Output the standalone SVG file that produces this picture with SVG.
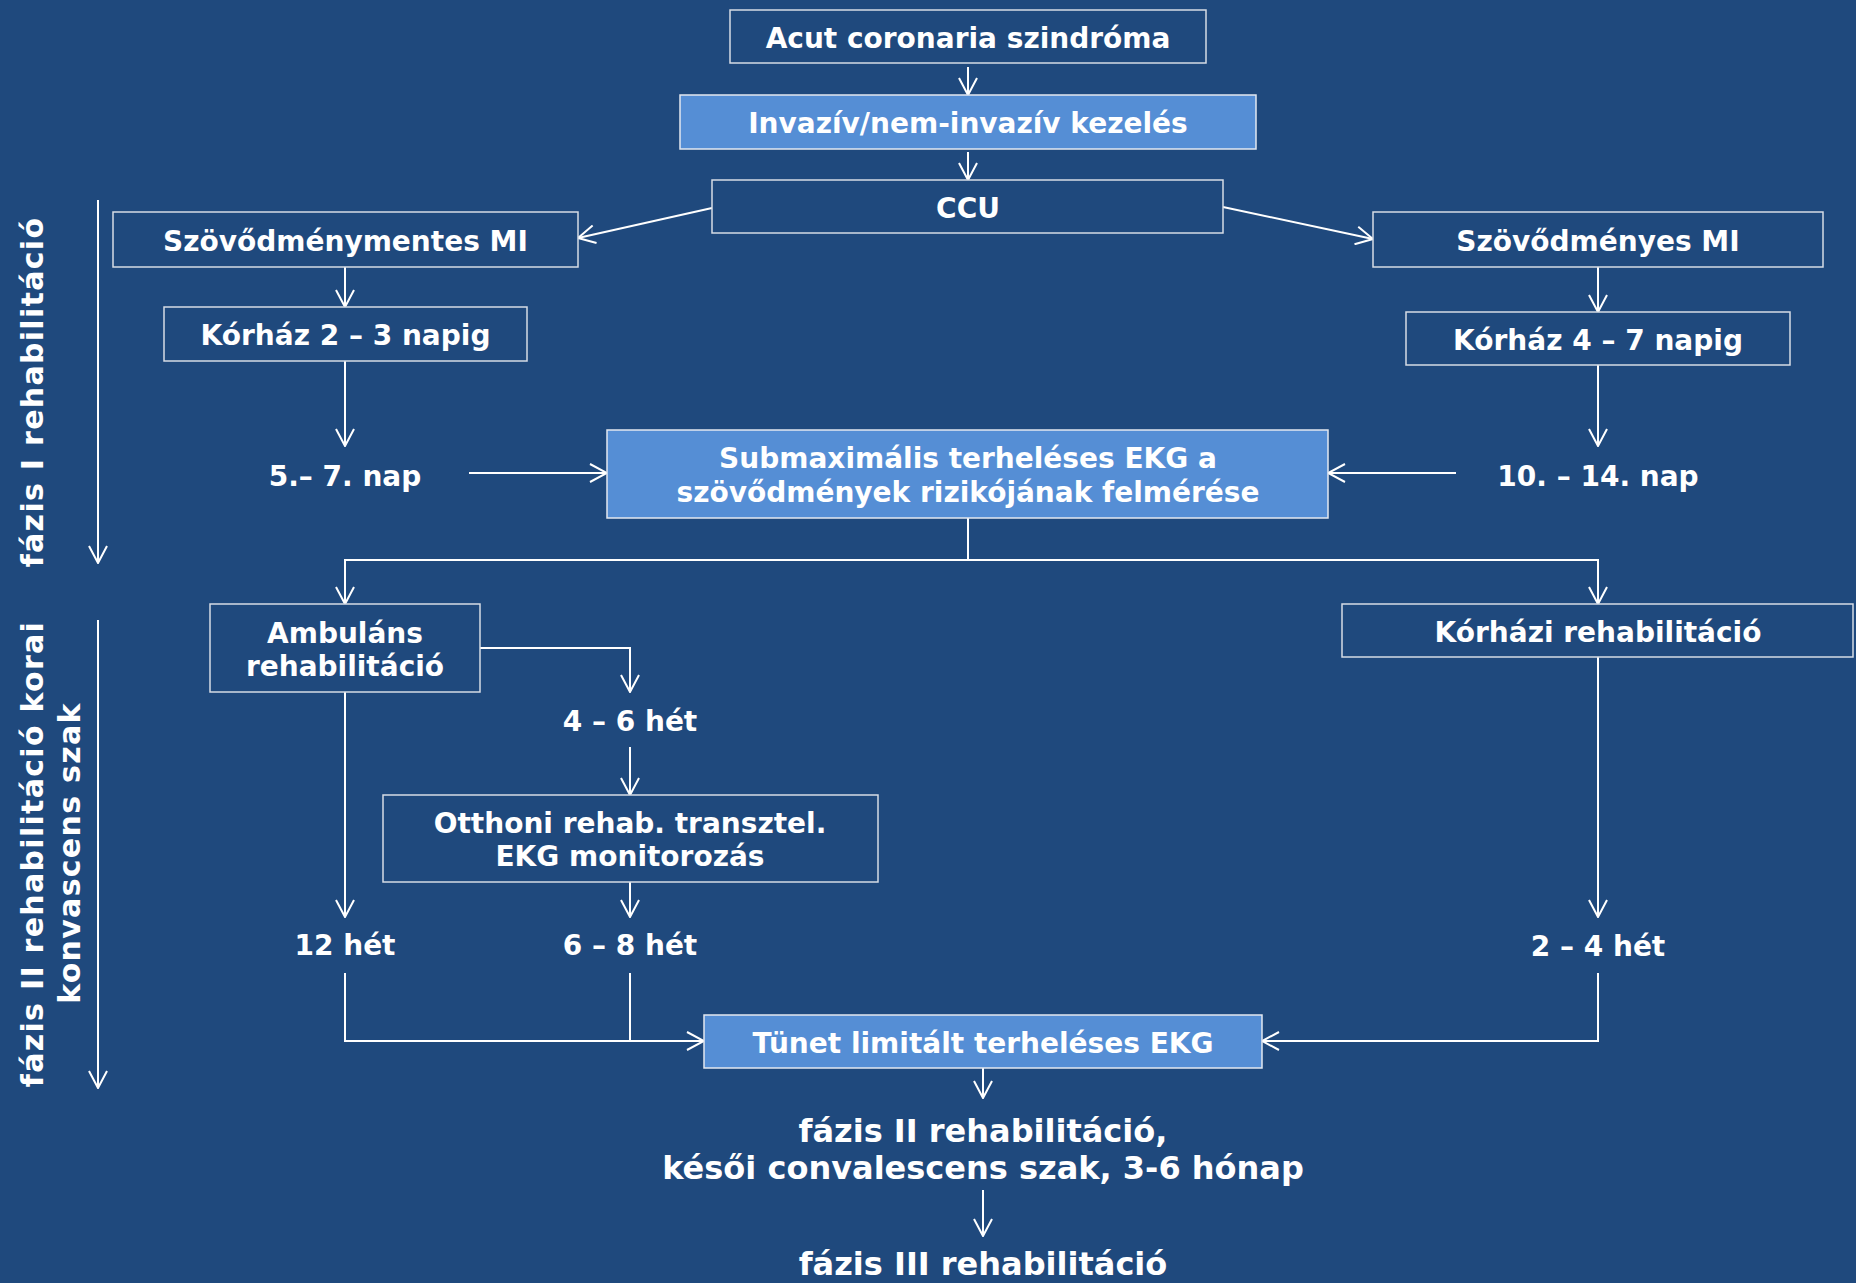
<svg xmlns="http://www.w3.org/2000/svg" width="1856" height="1283" viewBox="0 0 1856 1283">
<style>
.bg{fill:#1F497D}
.box{fill:#1F497D;stroke:#D6DCE5;stroke-width:1.5}
.hl{fill:#558ED5;stroke:#E3E8F0;stroke-width:1.5}
text{font-family:"DejaVu Sans",Verdana,sans-serif;font-weight:bold;fill:#fff;text-anchor:middle;font-size:28px}
.big{font-size:32px}
.side{font-size:30px;letter-spacing:1.3px}
.c{fill:none;stroke:#fff;stroke-width:2}
.a{marker-end:url(#ah)}
</style>
<defs>
<marker id="ah" viewBox="0 0 20 20" refX="19" refY="10" markerWidth="20" markerHeight="20" markerUnits="userSpaceOnUse" orient="auto">
<path d="M2,1 L19,10 L2,19" fill="none" stroke="#fff" stroke-width="2"/>
</marker>
</defs>
<rect class="bg" x="0" y="0" width="1856" height="1283"/>

<g id="connectors">
<path class="c a" d="M968,67 V95"/>
<path class="c a" d="M968,152 V180"/>
<path class="c a" d="M712,208 L578,238"/>
<path class="c a" d="M1223,207 L1373,239"/>
<path class="c a" d="M345,267 V307"/>
<path class="c a" d="M1598,267 V312"/>
<path class="c a" d="M345,361 V446"/>
<path class="c a" d="M1598,365 V446"/>
<path class="c a" d="M469,473 H607"/>
<path class="c a" d="M1456,473 H1328"/>
<path class="c a" d="M968,518 V560 H345 V604"/>
<path class="c a" d="M968,560 H1598 V604"/>
<path class="c a" d="M480,648 H630 V692"/>
<path class="c a" d="M630,747 V795"/>
<path class="c a" d="M630,882 V917"/>
<path class="c a" d="M345,692 V917"/>
<path class="c a" d="M1598,657 V917"/>
<path class="c a" d="M345,973 V1041 H704"/>
<path class="c" d="M630,973 V1041"/>
<path class="c a" d="M1598,973 V1041 H1262"/>
<path class="c a" d="M983,1068 V1098"/>
<path class="c a" d="M983,1190 V1236"/>
<path class="c a" d="M98,200 V563"/>
<path class="c a" d="M98,620 V1088"/>
</g>

<g id="acut"><rect class="box" x="730" y="10" width="476" height="53"/><text x="968" y="48">Acut coronaria szindróma</text></g>
<g id="invaziv"><rect class="hl" x="680" y="95" width="576" height="54"/><text x="968" y="133">Invazív/nem-invazív kezelés</text></g>
<g id="ccu"><rect class="box" x="712" y="180" width="511" height="53"/><text x="968" y="218">CCU</text></g>
<g id="szovmentes"><rect class="box" x="113" y="212" width="465" height="55"/><text x="345.5" y="251">Szövődménymentes MI</text></g>
<g id="szovnyes"><rect class="box" x="1373" y="212" width="450" height="55"/><text x="1598" y="251">Szövődményes MI</text></g>
<g id="korhaz23"><rect class="box" x="164" y="307" width="363" height="54"/><text x="345.5" y="345">Kórház 2 – 3 napig</text></g>
<g id="korhaz47"><rect class="box" x="1406" y="312" width="384" height="53"/><text x="1598" y="350">Kórház 4 – 7 napig</text></g>
<g id="nap57"><text x="345" y="486">5.– 7. nap</text></g>
<g id="nap1014"><text x="1598" y="486">10. – 14. nap</text></g>
<g id="submax"><rect class="hl" x="607" y="430" width="721" height="88"/><text x="968" y="468">Submaximális terheléses EKG a</text><text x="968" y="502">szövődmények rizikójának felmérése</text></g>
<g id="ambulans"><rect class="box" x="210" y="604" width="270" height="88"/><text x="345" y="643">Ambuláns</text><text x="345" y="676">rehabilitáció</text></g>
<g id="korhazi"><rect class="box" x="1342" y="604" width="511" height="53"/><text x="1598" y="642">Kórházi rehabilitáció</text></g>
<g id="het46"><text x="630" y="731">4 – 6 hét</text></g>
<g id="otthoni"><rect class="box" x="383" y="795" width="495" height="87"/><text x="630" y="833">Otthoni rehab. transztel.</text><text x="630" y="866">EKG monitorozás</text></g>
<g id="het12"><text x="345" y="955">12 hét</text></g>
<g id="het68"><text x="630" y="955">6 – 8 hét</text></g>
<g id="het24"><text x="1598" y="956">2 – 4 hét</text></g>
<g id="tunet"><rect class="hl" x="704" y="1015" width="558" height="53"/><text x="983" y="1053">Tünet limitált terheléses EKG</text></g>
<g id="fazis2kesoi"><text class="big" x="983" y="1142">fázis II rehabilitáció,</text><text class="big" x="983" y="1179">késői convalescens szak, 3-6 hónap</text></g>
<g id="fazis3"><text class="big" x="983" y="1275">fázis III rehabilitáció</text></g>
<g id="label-fazis1"><text class="side" transform="translate(43,392) rotate(-90)">fázis I rehabilitáció</text></g>
<g id="label-fazis2"><text class="side" transform="translate(43,854) rotate(-90)">fázis II rehabilitáció korai</text><text class="side" transform="translate(80,853) rotate(-90)">konvascens szak</text></g>
</svg>
